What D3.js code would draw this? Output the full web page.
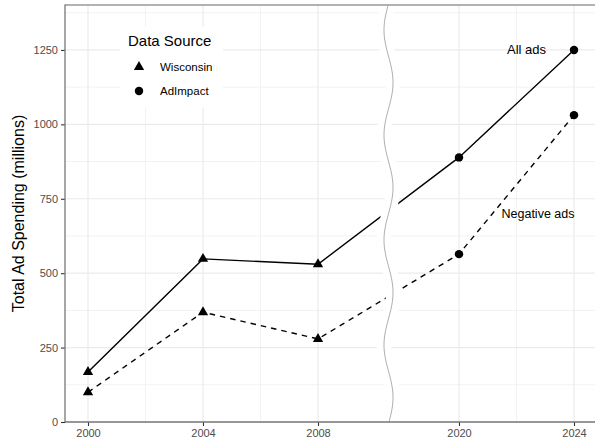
<!DOCTYPE html>
<html><head><meta charset="utf-8">
<script src="https://cdn.jsdelivr.net/npm/d3@7"></script>
<style>body{margin:0;background:#fff}svg{display:block}text{font-family:"Liberation Sans",Arial,sans-serif}</style>
</head><body><svg id="c" width="595" height="443"></svg>
<script>
// ---- data ----
const years = [2000, 2004, 2008, 2020, 2024];
const sources = ["Wisconsin", "Wisconsin", "Wisconsin", "AdImpact", "AdImpact"];
const allAds = [168, 548, 530, 889, 1250];
const negativeAds = [100, 369, 279, 564, 1031];
const yTicks = [0, 250, 500, 750, 1000, 1250];
const yMinor = [125, 375, 625, 875, 1125, 1375];
const xTicks = [2000, 2004, 2008, 2020, 2024];
const xMinor = [2002, 2006, 2022];
const legendItems = ["Wisconsin", "AdImpact"];
const seriesLabels = [
  {text: "All ads", year: 2024, value: 1250},
  {text: "Negative ads", year: 2024, value: 700}
];
const breakYear = 2014;

// ---- layout ----
const W = 595, H = 443;
const L = 65, T = 5, B = 422, R = 600;
const svg = d3.select("#c");

const x = d3.scaleLinear().domain([2000, 2008, 2020, 2024]).range([88, 318, 459, 574]);
const y = d3.scaleLinear().domain([0, 1401]).range([B, T]);

svg.append("rect").attr("width", W).attr("height", H).attr("fill", "#fff");

// gridlines
const g = svg.append("g");
g.selectAll(".ym").data(yMinor).join("line")
  .attr("x1", L).attr("x2", R).attr("y1", d => y(d)).attr("y2", d => y(d))
  .attr("stroke", "#f2f2f2").attr("stroke-width", 1);
g.selectAll(".xm").data(xMinor).join("line")
  .attr("y1", T).attr("y2", B).attr("x1", d => x(d)).attr("x2", d => x(d))
  .attr("stroke", "#f2f2f2").attr("stroke-width", 1);
g.selectAll(".yM").data(yTicks).join("line")
  .attr("x1", L).attr("x2", R).attr("y1", d => y(d)).attr("y2", d => y(d))
  .attr("stroke", "#ebebeb").attr("stroke-width", 1.2);
g.selectAll(".xM").data(xTicks).join("line")
  .attr("y1", T).attr("y2", B).attr("x1", d => x(d)).attr("x2", d => x(d))
  .attr("stroke", "#ebebeb").attr("stroke-width", 1.2);

// lines
const pts = (vals) => years.map((yr, i) => [x(yr), y(vals[i])]);
const lineGen = d3.line();
svg.append("path").attr("d", lineGen(pts(allAds))).attr("fill", "none")
  .attr("stroke", "#000").attr("stroke-width", 1.4);
svg.append("path").attr("d", lineGen(pts(negativeAds))).attr("fill", "none")
  .attr("stroke", "#000").attr("stroke-width", 1.4).attr("stroke-dasharray", "5.5,5");

// points
const tri = d3.symbol().type(d3.symbolTriangle).size(46);
const circ = d3.symbol().type(d3.symbolCircle).size(56);
[allAds, negativeAds].forEach(vals => {
  svg.append("g").selectAll("path").data(years).join("path")
    .attr("transform", (d, i) => `translate(${x(d)},${y(vals[i])})`)
    .attr("d", (d, i) => sources[i] === "Wisconsin" ? tri() : circ())
    .attr("fill", "#000");
});

// axis break wave
const bx = x(breakYear);
const wave = d3.range(T, B + 0.5, 1).map(yy => [bx - 4.5 * Math.cos(2 * Math.PI * (yy - 30) / 105), yy]);
svg.append("path").attr("d", d3.line()(wave)).attr("fill", "none")
  .attr("stroke", "#fff").attr("stroke-width", 14);
svg.append("path").attr("d", d3.line()(wave)).attr("fill", "none")
  .attr("stroke", "#b0b0b0").attr("stroke-width", 1);

// border & axes
svg.append("line").attr("x1", L).attr("x2", R).attr("y1", T).attr("y2", T)
  .attr("stroke", "#999").attr("stroke-width", 1.3);
const yAxis = svg.append("g").attr("transform", `translate(${L},0)`)
  .call(d3.axisLeft(y).tickValues(yTicks).tickFormat(d3.format("d")).tickSize(4).tickPadding(3));
const xAxis = svg.append("g").attr("transform", `translate(0,${B})`)
  .call(d3.axisBottom(x).tickValues(xTicks).tickFormat(d3.format("d")).tickSize(4).tickPadding(3));
[yAxis, xAxis].forEach(a => {
  a.select(".domain").remove();
  a.selectAll(".tick line").attr("stroke", "#333").attr("stroke-width", 1.1);
  a.selectAll(".tick text").attr("fill", "#4d4d4d").style("font-size", "11px")
    .style("font-family", "'Liberation Sans',Arial,sans-serif");
});
svg.append("line").attr("x1", L).attr("x2", L).attr("y1", T - 0.5).attr("y2", B)
  .attr("stroke", "#777").attr("stroke-width", 1.3);
svg.append("line").attr("x1", L).attr("x2", R).attr("y1", B).attr("y2", B)
  .attr("stroke", "#777").attr("stroke-width", 1.3);

// y title
svg.append("text").attr("transform", `translate(${24},${(T + B) / 2}) rotate(-90)`)
  .attr("text-anchor", "middle").style("font-size", "16px").attr("fill", "#000")
  .text("Total Ad Spending (millions)");

// series labels
svg.append("text").attr("x", x(seriesLabels[0].year) - 28).attr("y", y(seriesLabels[0].value))
  .attr("dy", "0.35em").attr("text-anchor", "end").style("font-size", "13px").text(seriesLabels[0].text);
svg.append("text").attr("x", x(seriesLabels[1].year) - 36).attr("y", y(seriesLabels[1].value))
  .attr("dy", "0.35em").attr("text-anchor", "middle").style("font-size", "12.5px").text(seriesLabels[1].text);

// legend
const lg = svg.append("g");
lg.append("rect").attr("x", 120).attr("y", 27).attr("width", 103).attr("height", 81).attr("fill", "#fff");
lg.append("text").attr("x", 128).attr("y", 46).style("font-size", "15px").text("Data Source");
lg.selectAll(".k").data(legendItems).join("path")
  .attr("transform", (d, i) => `translate(139,${67 + i * 24})`)
  .attr("d", (d) => d === "Wisconsin" ? tri() : circ()).attr("fill", "#000");
lg.selectAll(".t").data(legendItems).join("text")
  .attr("x", 160).attr("y", (d, i) => 67 + i * 24).attr("dy", "0.35em")
  .style("font-size", "11.5px").text(d => d);
</script></body></html>
